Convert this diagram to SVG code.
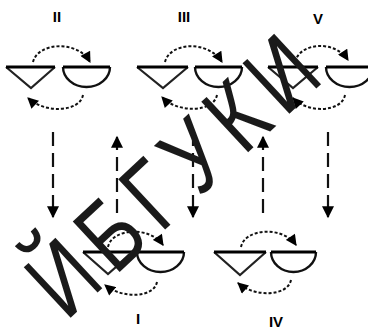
<svg xmlns="http://www.w3.org/2000/svg" width="368" height="330" viewBox="0 0 368 330">
<defs>
<marker id="ah" viewBox="0 0 10 10" refX="9" refY="5" markerUnits="userSpaceOnUse" markerWidth="12" markerHeight="11" orient="auto"><path d="M0,0 L10,5 L0,10 z" fill="#000"/></marker>
<marker id="av" viewBox="0 0 10 10" refX="9" refY="5" markerUnits="userSpaceOnUse" markerWidth="14" markerHeight="12" orient="auto"><path d="M0,0 L10,5 L0,10 z" fill="#000"/></marker>
<style>
.bar{stroke:#000;stroke-width:3;fill:none}
.tri{stroke:#222;stroke-width:2.2;fill:none;stroke-linejoin:miter}
.semi{stroke:#111;stroke-width:2.4;fill:none}
.arc{stroke:#111;stroke-width:2;fill:none;stroke-dasharray:3 2;marker-end:url(#ah)}
.vert{stroke:#111;stroke-width:2.2;fill:none;stroke-dasharray:14 7;marker-end:url(#av)}
.lbl{font-family:"Liberation Sans",Arial,sans-serif;font-size:15px;font-weight:bold;fill:#000;text-anchor:middle}
.wm{font-family:"Liberation Sans",Arial,sans-serif;font-size:100px;fill:#1a1a1a;letter-spacing:14px}
</style>
</defs>
<rect width="368" height="330" fill="#fff"/>
<g id="node-II">
<path class="tri" d="M6,67 L31,88 L55,67"/><line class="bar" x1="6" y1="67" x2="55" y2="67"/>
<path class="semi" d="M63,67 A23.5,20 0 0 0 110,67"/><line class="bar" x1="63" y1="67" x2="110" y2="67"/>
<text class="lbl" x="57" y="22">II</text>
</g>
<g id="node-III">
<path class="tri" d="M137,67 L163,88 L188,67"/><line class="bar" x1="137" y1="67" x2="188" y2="67"/>
<path class="semi" d="M195,67 A23.5,20 0 0 0 242,67"/><line class="bar" x1="195" y1="67" x2="242" y2="67"/>
<text class="lbl" x="184" y="22">III</text>
</g>
<g id="node-V">
<path class="tri" d="M268,67 L293,88 L318,67"/><line class="bar" x1="268" y1="67" x2="318" y2="67"/>
<path class="semi" d="M326,67 A23.5,20 0 0 0 373,67"/><line class="bar" x1="326" y1="67" x2="373" y2="67"/>
<text class="lbl" x="318" y="24">V</text>
</g>
<g id="node-I">
<path class="tri" d="M83,252 L108,274 L133,252"/><line class="bar" x1="83" y1="252" x2="133" y2="252"/>
<path class="semi" d="M137,252 A23.5,20 0 0 0 184,252"/><line class="bar" x1="137" y1="252" x2="184" y2="252"/>
<text class="lbl" x="138" y="324">I</text>
</g>
<g id="node-IV">
<path class="tri" d="M214,252 L240,275 L266,252"/><line class="bar" x1="214" y1="252" x2="266" y2="252"/>
<path class="semi" d="M271,252 A22.5,20 0 0 0 316,252"/><line class="bar" x1="271" y1="252" x2="316" y2="252"/>
<text class="lbl" x="276" y="327">IV</text>
</g>
<g id="connectors">
<path class="arc" d="M33,62 C38,42 78,40 90,62"/>
<path class="arc" d="M83,95 C80,112 45,114 28,98"/>
<path class="arc" d="M165,62 C170,42 208,40 222,62"/>
<path class="arc" d="M217,95 C214,112 178,114 162,97"/>
<path class="arc" d="M295,62 C300,42 335,40 348,60"/>
<path class="arc" d="M345,95 C342,112 308,114 293,98"/>
<path class="arc" d="M108,247 C112,228 150,226 163,245"/>
<path class="arc" d="M157,282 C154,298 122,299 105,285"/>
<path class="arc" d="M241,247 C245,228 283,226 296,245"/>
<path class="arc" d="M291,280 C288,296 255,298 238,283"/>
<path class="vert" d="M53,132 L53,217"/>
<path class="vert" d="M117,213 L117,137"/>
<path class="vert" d="M193,132 L193,217"/>
<path class="vert" d="M263,213 L263,137"/>
<path class="vert" d="M328,132 L328,217"/>
</g>
<text class="wm" transform="translate(66,322) rotate(-43) scale(0.78,1)">ЙБГУКИ</text>
</svg>
